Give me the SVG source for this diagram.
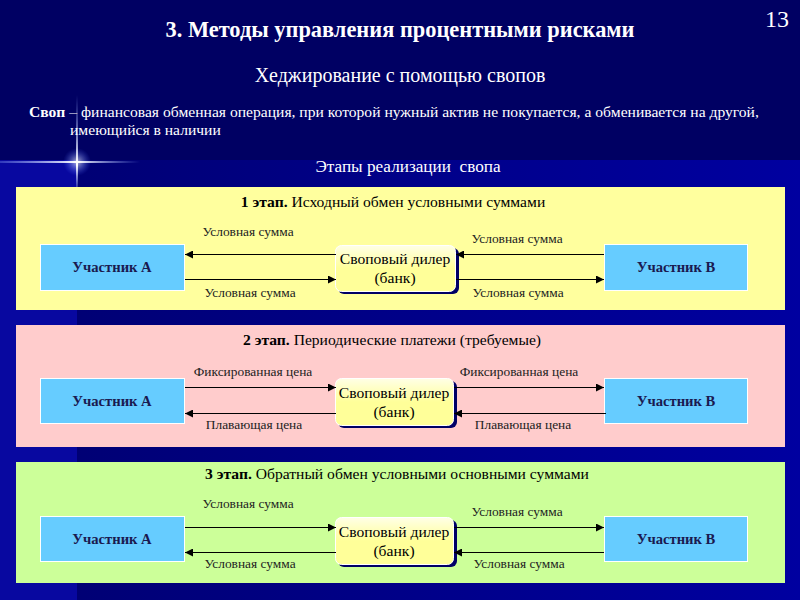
<svg xmlns="http://www.w3.org/2000/svg" width="800" height="600" viewBox="0 0 800 600">
<defs>
<linearGradient id="bgLow" x1="0" y1="0" x2="1" y2="0">
<stop offset="0" stop-color="#000070"/>
<stop offset="1" stop-color="#0000a0"/>
</linearGradient>
<linearGradient id="vline" x1="0" y1="0" x2="0" y2="1">
<stop offset="0" stop-color="#8fa8ff" stop-opacity="0"/>
<stop offset="0.7" stop-color="#ffffff" stop-opacity="1"/>
<stop offset="1" stop-color="#8fa8ff" stop-opacity="0"/>
</linearGradient>
<linearGradient id="hline" x1="0" y1="0" x2="1" y2="0">
<stop offset="0" stop-color="#8fa8ff" stop-opacity="0.3"/>
<stop offset="0.55" stop-color="#ffffff" stop-opacity="1"/>
<stop offset="1" stop-color="#8fa8ff" stop-opacity="0"/>
</linearGradient>
<radialGradient id="glow">
<stop offset="0" stop-color="#ffffff" stop-opacity="0.7"/>
<stop offset="1" stop-color="#4060ff" stop-opacity="0"/>
</radialGradient>
<linearGradient id="dealerFill" x1="0" y1="0" x2="0" y2="1">
<stop offset="0" stop-color="#ffffe6"/>
<stop offset="0.5" stop-color="#ffff99"/>
<stop offset="1" stop-color="#ffff99"/>
</linearGradient>
<marker id="ah" viewBox="0 0 8 8" refX="8" refY="4" markerWidth="8" markerHeight="8" markerUnits="userSpaceOnUse" orient="auto">
<path d="M0,0 L8,4 L0,8 z" fill="#000"/>
</marker>
</defs>
<style>
text{font-family:"Liberation Serif","DejaVu Serif",serif;}
.w{fill:#ffffff;}
.lbl{font-size:13.4px;fill:#222;text-anchor:middle;}
.ptitle{font-size:15.6px;fill:#000;text-anchor:middle;}
.part rect{fill:#66ccff;stroke:#ffffff;stroke-width:1;}
.part text{font-size:14.6px;font-weight:bold;fill:#1a1a50;text-anchor:middle;}
.dealer .sh{fill:#000066;}
.dealer .bx{fill:url(#dealerFill);stroke:#ffffff;stroke-width:1;}
.dealer text{font-size:15.6px;fill:#000;text-anchor:middle;}
.conn line{stroke:#000;stroke-width:1;marker-end:url(#ah);}
</style>
<rect x="0" y="0" width="800" height="600" fill="#000063"/>
<rect x="0" y="160" width="800" height="440" fill="url(#bgLow)"/>
<rect x="0" y="160" width="77" height="440" fill="#0808a0"/>
<g id="flare">
<circle cx="77" cy="162" r="14" fill="url(#glow)"/>
<rect x="76" y="95" width="2" height="100" fill="url(#vline)"/>
<rect x="0" y="161" width="140" height="2" fill="url(#hline)"/>
</g>
<g id="header">
<text class="w" x="400" y="37" font-size="22.4" font-weight="bold" text-anchor="middle">3. Методы управления процентными рисками</text>
<text class="w" x="777" y="27" font-size="24" text-anchor="middle">13</text>
<text class="w" x="400" y="82" font-size="20" text-anchor="middle">Хеджирование с помощью свопов</text>
<text class="w" x="29" y="117" font-size="15.6"><tspan font-weight="bold">Своп</tspan> – финансовая обменная операция, при которой нужный актив не покупается, а обменивается на другой,</text>
<text class="w" x="70" y="135" font-size="15.6">имеющийся в наличии</text>
<text class="w" x="408" y="172" font-size="17.2" text-anchor="middle" xml:space="preserve">Этапы реализации  свопа</text>
</g>
<g id="panel1">
<rect x="16" y="187" width="769" height="123" fill="#ffff9e"/>
<text class="ptitle" x="393" y="207"><tspan font-weight="bold">1 этап.</tspan> Исходный обмен условными суммами</text>
</g>
<g id="panel2">
<rect x="16" y="325" width="769" height="122" fill="#ffcccc"/>
<text class="ptitle" x="392" y="345"><tspan font-weight="bold">2 этап.</tspan> Периодические платежи (требуемые)</text>
</g>
<g id="panel3">
<rect x="16" y="462" width="769" height="121" fill="#ccff99"/>
<text class="ptitle" x="397" y="479"><tspan font-weight="bold">3 этап.</tspan> Обратный обмен условными основными суммами</text>
</g>
<g id="a1" class="part"><rect x="40.5" y="244.5" width="144" height="46"/><text x="112" y="272">Участник А</text></g>
<g id="b1" class="part"><rect x="604.5" y="244.5" width="143" height="46"/><text x="676" y="272">Участник В</text></g>
<g id="d1" class="dealer"><rect class="sh" x="338" y="248" width="121" height="46" rx="6"/><rect class="bx" x="335.5" y="245.5" width="120" height="46" rx="6"/><text x="395" y="264">Своповый дилер</text><text x="395" y="283">(банк)</text></g>
<g id="a2" class="part"><rect x="40.5" y="378.5" width="144" height="45"/><text x="112" y="406">Участник А</text></g>
<g id="b2" class="part"><rect x="604.5" y="378.5" width="143" height="45"/><text x="676" y="406">Участник В</text></g>
<g id="d2" class="dealer"><rect class="sh" x="338" y="381" width="119" height="47" rx="6"/><rect class="bx" x="335.5" y="378.5" width="118" height="47" rx="6"/><text x="394" y="398">Своповый дилер</text><text x="394" y="417">(банк)</text></g>
<g id="a3" class="part"><rect x="40.5" y="516.5" width="144" height="45"/><text x="112" y="544">Участник А</text></g>
<g id="b3" class="part"><rect x="604.5" y="516.5" width="143" height="45"/><text x="676" y="544">Участник В</text></g>
<g id="d3" class="dealer"><rect class="sh" x="338" y="520" width="119" height="47" rx="6"/><rect class="bx" x="335.5" y="517.5" width="118" height="47" rx="6"/><text x="394" y="537">Своповый дилер</text><text x="394" y="556">(банк)</text></g>
<g id="connectors" class="conn">
<line x1="336" y1="254.5" x2="185" y2="254.5"/>
<line x1="185" y1="279.5" x2="336" y2="279.5"/>
<line x1="604" y1="254.5" x2="456" y2="254.5"/>
<line x1="456" y1="279.5" x2="604" y2="279.5"/>
<line x1="185" y1="387.5" x2="336" y2="387.5"/>
<line x1="336" y1="413.5" x2="185" y2="413.5"/>
<line x1="454" y1="387.5" x2="604" y2="387.5"/>
<line x1="606" y1="413.5" x2="454" y2="413.5"/>
<line x1="185" y1="527.5" x2="336" y2="527.5"/>
<line x1="336" y1="552.5" x2="185" y2="552.5"/>
<line x1="454" y1="527.5" x2="604" y2="527.5"/>
<line x1="604" y1="552.5" x2="454" y2="552.5"/>
</g>
<g id="labels">
<text class="lbl" x="248" y="236">Условная сумма</text>
<text class="lbl" x="250" y="297">Условная сумма</text>
<text class="lbl" x="517" y="243">Условная сумма</text>
<text class="lbl" x="518" y="297">Условная сумма</text>
<text class="lbl" x="253" y="376">Фиксированная цена</text>
<text class="lbl" x="519" y="376">Фиксированная цена</text>
<text class="lbl" x="254" y="429">Плавающая цена</text>
<text class="lbl" x="523" y="429">Плавающая цена</text>
<text class="lbl" x="248" y="508">Условная сумма</text>
<text class="lbl" x="517" y="516">Условная сумма</text>
<text class="lbl" x="250" y="568">Условная сумма</text>
<text class="lbl" x="519" y="568">Условная сумма</text>
</g>
</svg>
